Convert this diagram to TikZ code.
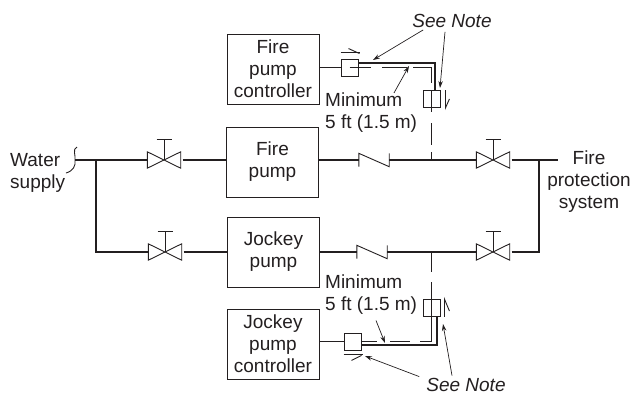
\documentclass[tikz,border=0pt]{standalone}
\usepackage{fontspec}
\setmainfont{Liberation Sans}
\usepackage{xcolor}
\usetikzlibrary{positioning, calc, arrows.meta}
\definecolor{fpInk}{RGB}{35, 31, 32}
\tikzset{
    base/.style={
        font=\fontsize{19}{22}\selectfont,
        align=center,
        text=fpInk,
        inner sep=0pt
    },
    unitbox/.style={
        base,
        rectangle,
        draw=fpInk,
        line width=1pt,
        minimum width=92pt,
        minimum height=70pt
    },
    sensor/.style={
        rectangle,
        draw=fpInk,
        line width=0.9pt,
        minimum width=17pt,
        minimum height=17pt,
        inner sep=0pt
    },
    valvebox/.style={
        rectangle,
        minimum width=33pt,
        minimum height=16pt,
        inner sep=0pt
    },
    checkbox/.style={
        rectangle,
        minimum width=30pt,
        minimum height=13pt,
        inner sep=0pt
    },
    pipe/.style={
        draw=fpInk,
        line width=1.3pt
    },
    conduit/.style={
        draw=fpInk,
        line width=1.6pt
    },
    wire/.style={
        draw=fpInk,
        line width=0.9pt
    },
    sense/.style={
        draw=fpInk,
        line width=0.8pt,
        dash pattern=on 20pt off 10pt
    },
    callout/.style={
        -{Stealth[length=7pt,width=4.5pt]},
        draw=fpInk,
        line width=0.7pt
    }
}
\newcommand{\gatevalve}[3]{
  \node[valvebox] (#1) at (#2,#3) {};
  \draw[wire] (#1.north west) -- (#1.south east) -- (#1.north east) -- (#1.south west) -- cycle;
  \draw[wire] (#1.center) -- ++(0,-21) ++(-7.5,0) -- ++(15,0);
}
\newcommand{\checkvalve}[3]{
  \node[checkbox] (#1) at (#2,#3) {};
  \draw[wire] (#1.south west) -- (#1.north west) -- (#1.south east) -- (#1.north east);
}

\begin{document}
\begin{tikzpicture}[x=1pt, y=-1pt]
  \useasboundingbox (0,0) rectangle (633,394);

  % Boxes
  \node[unitbox] (fcontrol) at (273,69) {Fire\\pump\\controller};
  \node[unitbox] (fpump) at (272.5,162) {Fire\\pump};
  \node[unitbox] (jpump) at (273.5,252) {Jockey\\pump};
  \node[unitbox] (jcontrol) at (273,344) {Jockey\\pump\\controller};

  % Valves
  \gatevalve{va}{164}{160}
  \gatevalve{vb}{165}{252}
  \gatevalve{vc}{493}{160}
  \gatevalve{vd}{493}{252}
  \checkvalve{ca}{374}{160}
  \checkvalve{cb}{372}{252}

  % Sensing boxes
  \node[sensor] (fswitch) at (349.5,67.5) {};
  \node[sensor] (fsensor) at (431.5,99) {};
  \node[sensor] (jswitch) at (352.5,341.5) {};
  \node[sensor] (jsensor) at (431.5,308) {};

  % Labels
  \node[base, align=left, anchor=west] (water) at (10,173) {Water\\supply};
  \node[base] (system) at (589,181.5) {Fire\\protection\\system};
  \node[base, align=left, anchor=west] (fmin) at (325,113) {Minimum\\5 ft (1.5 m)};
  \node[base, align=left, anchor=west] (jmin) at (325,294.5) {Minimum\\5 ft (1.5 m)};
  \node[base, font=\fontsize{19}{22}\selectfont\itshape] (fnote) at (452,21) {See Note};
  \node[base, font=\fontsize{19}{22}\selectfont\itshape] (jnote) at (466,384.5) {See Note};

  % Pipe junctions
  \coordinate (sply) at (75,160);
  \coordinate (tee) at (96,160);
  \coordinate (out) at (558,160);
  \coordinate (rtee) at (539,160);
  \coordinate (ftap) at (fsensor.center |- ca.east);
  \coordinate (jtap) at (jsensor.center |- cb.east);

  % Pipes
  \draw[pipe] (sply) -- (va.west);
  \draw[pipe] ([xshift=2pt]va.east) -- (va.east -| fpump.west);
  \draw[pipe] (va.east -| fpump.east) -- (ca.west);
  \draw[pipe] (ca.east) -- (vc.west);
  \draw[pipe] ([xshift=2pt]vc.east) -- (out);
  \draw[pipe] (tee) |- (vb.west);
  \draw[pipe] ([xshift=2pt]vb.east) -- (vb.east -| jpump.west);
  \draw[pipe] (vb.east -| jpump.east) -- (cb.west);
  \draw[pipe] (cb.east) -- (vd.west);
  \draw[pipe] ([xshift=2pt]vd.east) -| (rtee);

  % Brace
  \draw[wire] (77,147) .. controls (72,149) and (76,156) .. (75,160)
    .. controls (76,166) and (73,171) .. (66,173);

  % Fire pump controller
  \draw[wire] (fcontrol.east |- fswitch) -- (fswitch.west);
  \draw[sense, dash pattern=on 21.5pt off 11pt on 25pt off 6pt on 33.5pt off 99pt] (fswitch.center) -| (fsensor.center);
  \draw[sense, dash pattern=on 22pt off 11pt on 22pt off 7pt on 8pt off 99pt] (fsensor.north) -- (ftap);
  \draw[conduit] ([yshift=4.5pt]fswitch.east) -| ([xshift=3.5pt]fsensor.north);
  \draw[wire] ([yshift=6pt]fswitch.north west) -- ++(19,0);
  \draw[wire] ([xshift=8pt,yshift=10pt]fswitch.north west) -- ++(11,5);
  \draw[wire] ([xshift=5pt]fsensor.north east) -- ([xshift=5pt]fsensor.south east) -- ++(4,-9);

  % Jockey pump controller
  \draw[wire] (jcontrol.east |- jswitch) -- (jswitch.west);
  \draw[sense, dash pattern=on 16pt off 13pt on 20pt off 10pt on 99pt] (jswitch.east) -| (jsensor.north);
  \draw[sense] (jtap) -- (jsensor.north);
  \draw[conduit] ([yshift=-3.5pt]jswitch.east) -| ([xshift=5.5pt]jsensor.south);
  \draw[wire] ([yshift=-4pt]jswitch.south west) -- ++(19,0);
  \draw[wire] ([xshift=8pt,yshift=-10pt]jswitch.south west) -- ++(10,-5);
  \draw[wire] ([xshift=4pt]jsensor.south east) -- ([xshift=4pt]jsensor.north east) -- ++(5,12);

  % Callouts
  \coordinate (fa) at (373,60);
  \coordinate (fb) at (440,88);
  \coordinate (fc) at (409,66);
  \coordinate (ja) at (365,356);
  \coordinate (jb) at (443,324);
  \coordinate (jc) at (385,343);
  \draw[callout] (fnote.south west) ++(11,2) -- (fa);
  \draw[callout] (fnote.south) ++(-7,4) -- (fb);
  \draw[callout] (fmin.north west) ++(69,0) -- (fc);
  \draw[callout] (jnote.north west) ++(-7,-1) -- (ja);
  \draw[callout] (jnote.north) ++(-14,-2) -- (jb);
  \draw[callout] (jmin.south west) ++(51,6) -- (jc);
\end{tikzpicture}
\end{document}
